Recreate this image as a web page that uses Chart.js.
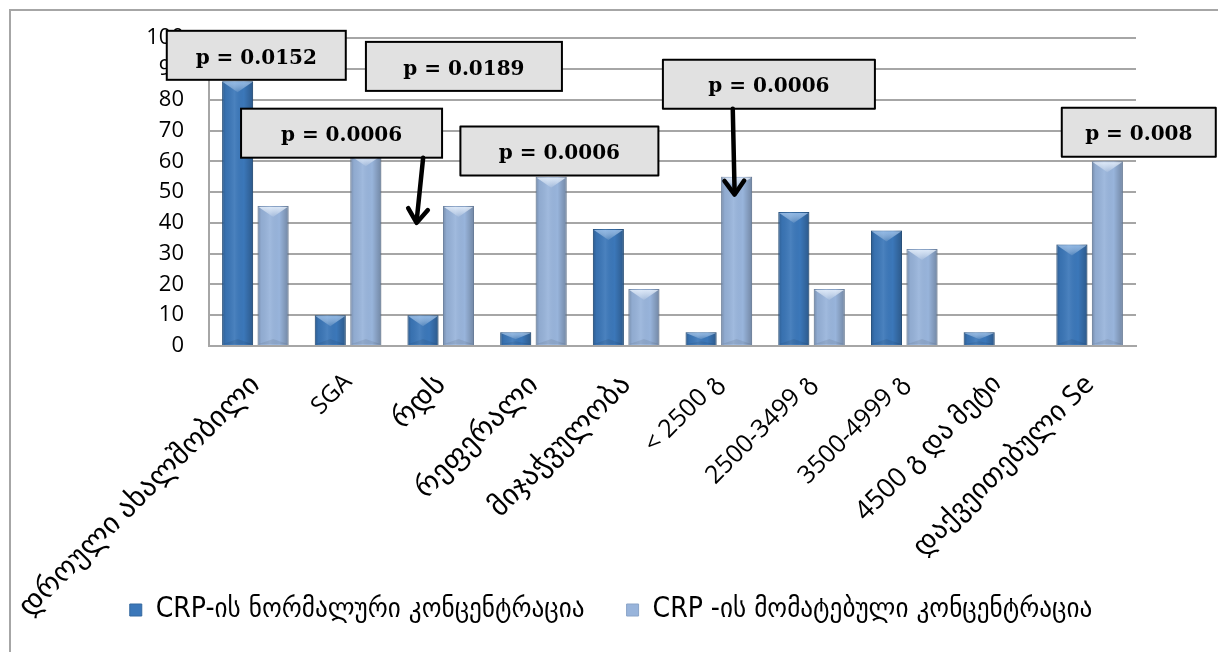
<!DOCTYPE html>
<html>
<head>
<meta charset="utf-8">
<script src="https://cdn.jsdelivr.net/npm/chart.js@4.4.1/dist/chart.umd.min.js"></script>
<style>
  html, body { margin: 0; padding: 0; background: #ffffff; }
  #wrap { width: 1218px; height: 652px; position: relative; }
</style>
</head>
<body>
<div id="wrap"><canvas id="c" width="1218" height="652"></canvas></div>
<script>
// Categories along the x axis
const categories = [
  'დროული ახალშობილი', 'SGA', 'რდს', 'რეფერალი', 'მიჯაჭვულობა',
  '< 2500 გ', '2500-3499 გ', '3500-4999 გ', '4500 გ და მეტი', 'დაქვეითებული Se'
];
// Share (%) in each group
const normalCRP   = [86, 10, 10, 4.5, 38, 4.5, 43.5, 37.5, 4.5, 33];
const elevatedCRP = [45.5, 62, 45.5, 55, 18.5, 55, 18.5, 31.5, 0, 60];
const seriesNames = ['CRP-ის ნორმალური კონცენტრაცია', 'CRP -ის მომატებული კონცენტრაცია'];
const yTicks = [0, 10, 20, 30, 40, 50, 60, 70, 80, 90, 100];
const pValues = ['p = 0.0152', 'p = 0.0189', 'p = 0.0006', 'p = 0.0006', 'p = 0.0006', 'p = 0.008'];

// Callout boxes: horizontal centre in category units, top edge in axis units
const callouts = [
  { text: pValues[0], at: 0.01, top: 102.4, w: 179 },
  { text: pValues[1], at: 2.25, top: 98.8,  w: 196 },
  { text: pValues[2], at: 0.93, top: 77.1,  w: 201, arrow: { from: 1.81, to: 1.74, tip: 40 } },
  { text: pValues[3], at: 3.28, top: 71.3,  w: 198 },
  { text: pValues[4], at: 5.54, top: 93.0,  w: 212, arrow: { from: 5.15, to: 5.17, tip: 49.2 } },
  { text: pValues[5], at: 9.53, top: 77.4,  w: 154 }
];

const palette = [
  { body: '#3b77b9', bevel: 'rgba(170,205,245,0.75)', line: '#34689f' },
  { body: '#98b4db', bevel: 'rgba(235,244,255,0.85)', line: '#8aa4c8' }
];

// Georgian script renders through DejaVu Sans, so those labels get a larger size
function labelSize(text) {
  const chars = Array.from(text).filter(ch => ch !== ' ');
  const geo = chars.filter(ch => ch >= '\u10A0' && ch <= '\u10FF').length;
  return Math.round(24 + 5 * geo / Math.max(1, chars.length));
}

// Gives the bars a bevelled, rounded look
const barShading = {
  id: 'barShading',
  afterDatasetsDraw(chart) {
    const ctx = chart.ctx;
    chart.data.datasets.forEach((ds, di) => {
      const meta = chart.getDatasetMeta(di);
      const pal = palette[di];
      meta.data.forEach(bar => {
        const p = bar.getProps(['x', 'y', 'width', 'base'], true);
        const h = p.base - p.y;
        if (h < 1) return;
        const l = p.x - p.width / 2, r = p.x + p.width / 2;
        ctx.save();
        const g = ctx.createLinearGradient(l, 0, r, 0);
        g.addColorStop(0, 'rgba(0,0,0,0.22)');
        g.addColorStop(0.12, 'rgba(0,0,0,0.05)');
        g.addColorStop(0.4, 'rgba(255,255,255,0.08)');
        g.addColorStop(0.7, 'rgba(0,0,0,0.0)');
        g.addColorStop(1, 'rgba(0,0,0,0.25)');
        ctx.fillStyle = g;
        ctx.fillRect(l, p.y, p.width, h);
        const bev = Math.min(11, h * 0.55);
        const tg = ctx.createLinearGradient(0, p.y, 0, p.y + bev);
        tg.addColorStop(0, pal.bevel);
        tg.addColorStop(1, 'rgba(255,255,255,0.1)');
        ctx.fillStyle = tg;
        ctx.beginPath();
        ctx.moveTo(l + 1, p.y + 1);
        ctx.lineTo(r - 1, p.y + 1);
        ctx.lineTo(p.x, p.y + bev);
        ctx.closePath();
        ctx.fill();
        const bb = Math.min(6, h * 0.3);
        ctx.fillStyle = 'rgba(0,0,0,0.08)';
        ctx.beginPath();
        ctx.moveTo(l + 1, p.base - 1);
        ctx.lineTo(r - 1, p.base - 1);
        ctx.lineTo(p.x, p.base - bb);
        ctx.closePath();
        ctx.fill();
        ctx.restore();
      });
    });
  }
};

// Keeps the legend band compact so the rotated labels have room above it
const legendBand = {
  id: 'legendBand',
  beforeLayout(chart) {
    const lg = chart.legend;
    if (lg && !lg._bandFit) {
      const fit = lg.fit.bind(lg);
      lg.fit = function () { fit(); this.height = 98; };
      lg._bandFit = true;
    }
  }
};

// Frame line, p-value callouts and arrows
const decorations = {
  id: 'decorations',
  beforeDraw(chart) {
    const ctx = chart.ctx;
    ctx.save();
    ctx.fillStyle = '#ffffff';
    ctx.fillRect(0, 0, chart.width, chart.height);
    ctx.strokeStyle = '#a6a6a6';
    ctx.lineWidth = 2;
    ctx.beginPath();
    ctx.moveTo(10, chart.height + 2);
    ctx.lineTo(10, 10);
    ctx.lineTo(chart.width + 2, 10);
    ctx.stroke();
    ctx.restore();
  },
  afterDraw(chart) {
    const ctx = chart.ctx;
    const xs = chart.scales.x, ys = chart.scales.y;
    const boxH = 49;
    ctx.save();
    callouts.forEach(c => {
      const cx = xs.getPixelForValue(c.at);
      const top = ys.getPixelForValue(c.top);
      const left = cx - c.w / 2;
      ctx.fillStyle = '#e1e1e1';
      ctx.fillRect(left, top, c.w, boxH);
      ctx.strokeStyle = '#000000';
      ctx.lineWidth = 2;
      ctx.strokeRect(left, top, c.w, boxH);
      ctx.fillStyle = '#000000';
      ctx.font = 'bold 20px "DejaVu Serif"';
      ctx.textAlign = 'center';
      ctx.textBaseline = 'middle';
      ctx.fillText(c.text, cx, top + boxH / 2 + 3);
      if (c.arrow) {
        const x0 = xs.getPixelForValue(c.arrow.from);
        const x1 = xs.getPixelForValue(c.arrow.to);
        const y0 = top + boxH;
        const y1 = ys.getPixelForValue(c.arrow.tip);
        const ang = Math.atan2(y1 - y0, x1 - x0);
        ctx.strokeStyle = '#000000';
        ctx.lineWidth = 4.5;
        ctx.lineCap = 'round';
        ctx.lineJoin = 'round';
        ctx.beginPath();
        ctx.moveTo(x0, y0);
        ctx.lineTo(x1, y1 - 2);
        ctx.stroke();
        const hl = 17, spread = 0.62;
        ctx.beginPath();
        ctx.moveTo(x1 - hl * Math.cos(ang - spread), y1 - hl * Math.sin(ang - spread));
        ctx.lineTo(x1, y1);
        ctx.lineTo(x1 - hl * Math.cos(ang + spread), y1 - hl * Math.sin(ang + spread));
        ctx.stroke();
      }
    });
    ctx.restore();
  }
};

new Chart(document.getElementById('c'), {
  type: 'bar',
  data: {
    labels: categories,
    datasets: [
      {
        label: seriesNames[0], data: normalCRP,
        backgroundColor: palette[0].body, borderColor: palette[0].line, borderWidth: 1,
        categoryPercentage: 0.766, barPercentage: 0.873
      },
      {
        label: seriesNames[1], data: elevatedCRP,
        backgroundColor: palette[1].body, borderColor: palette[1].line, borderWidth: 1,
        categoryPercentage: 0.766, barPercentage: 0.873
      }
    ]
  },
  options: {
    responsive: false,
    maintainAspectRatio: false,
    devicePixelRatio: 1,
    animation: false,
    layout: { padding: { left: 86, right: 82, top: 37, bottom: 0 } },
    plugins: {
      tooltip: { enabled: false },
      legend: {
        position: 'bottom',
        labels: {
          boxWidth: 12, boxHeight: 12, padding: 42,
          color: '#000000',
          font: { family: '"DejaVu Sans Condensed", "DejaVu Sans"', size: 28 }
        }
      }
    },
    scales: {
      x: {
        grid: { display: false, drawTicks: false },
        border: { display: true, color: '#a6a6a6', width: 2 },
        ticks: {
          autoSkip: false, minRotation: 45, maxRotation: 45, padding: 22,
          color: '#000000',
          font: (ctx) => ({
            family: '"Open Sans", "DejaVu Sans"',
            size: labelSize(ctx.tick && ctx.tick.label ? String(ctx.tick.label) : '')
          })
        },
        afterFit(scale) {
          scale.height = 208; scale.paddingLeft = 0; scale.paddingRight = 0;
          // long rotated labels run past the axis band, as on the printed figure
          scale._computeLabelArea = () => undefined;
        }
      },
      y: {
        min: 0, max: 100,
        afterBuildTicks(scale) { scale.ticks = yTicks.map(v => ({ value: v })); },
        grid: { color: '#a6a6a6', lineWidth: 2, drawTicks: false },
        border: { display: true, color: '#a6a6a6', width: 2 },
        ticks: {
          padding: 25, color: '#000000',
          font: { family: '"Open Sans", "DejaVu Sans"', size: 22 }
        },
        afterFit(scale) { scale.width = 123; }
      }
    }
  },
  plugins: [legendBand, decorations, barShading]
});
</script>
</body>
</html>
